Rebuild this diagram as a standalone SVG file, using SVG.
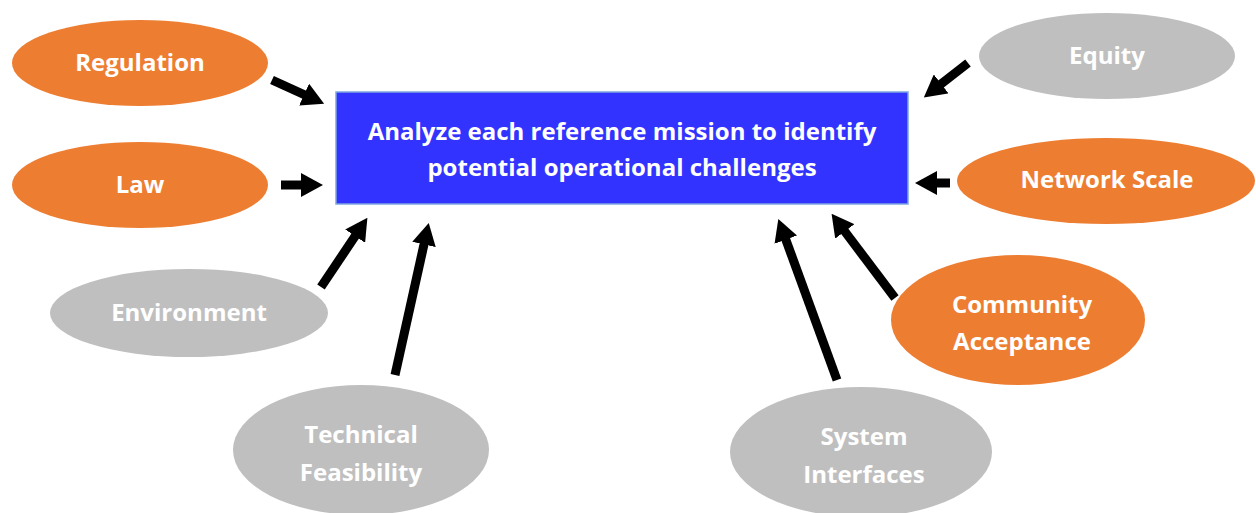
<svg xmlns="http://www.w3.org/2000/svg" width="1256" height="513" viewBox="0 0 1256 513">
<style>
.orange{fill:#ED7D31;}
.gray{fill:#BFBFBF;}
.lbl{font-family:"Open Sans","Liberation Sans",sans-serif;font-weight:bold;font-size:24px;fill:#FFFFFF;text-anchor:middle;}
.main{font-family:"Open Sans","Liberation Sans",sans-serif;font-weight:bold;font-size:24px;fill:#FFFFFF;text-anchor:middle;}
.conn{stroke:#000000;stroke-width:9;fill:none;marker-end:url(#ah);}
</style>
<defs>
<marker id="ah" markerUnits="userSpaceOnUse" markerWidth="22" markerHeight="24" refX="1" refY="12" orient="auto">
<path d="M0,0 L22,12 L0,24 z" fill="#000000"/>
</marker>
</defs>
<rect width="1256" height="513" fill="#FFFFFF"/>
<g id="center">
<rect x="336" y="92" width="572" height="112" fill="#3333FF" stroke="#7EA6E0" stroke-width="1.5"/>
<text class="main" x="622" y="140">Analyze each reference mission to identify</text>
<text class="main" x="622" y="176">potential operational challenges</text>
</g>
<g id="regulation">
<ellipse class="orange" cx="140" cy="63" rx="128" ry="43"/>
<text class="lbl" x="140" y="71">Regulation</text>
</g>
<g id="law">
<ellipse class="orange" cx="140" cy="185" rx="128" ry="43"/>
<text class="lbl" x="140" y="193">Law</text>
</g>
<g id="environment">
<ellipse class="gray" cx="189" cy="313" rx="139" ry="44"/>
<text class="lbl" x="189" y="321">Environment</text>
</g>
<g id="technical">
<ellipse class="gray" cx="361" cy="450" rx="128" ry="65"/>
<text class="lbl" x="361" y="443">Technical</text>
<text class="lbl" x="361" y="481">Feasibility</text>
</g>
<g id="system">
<ellipse class="gray" cx="861" cy="452" rx="131" ry="65"/>
<text class="lbl" x="864" y="445">System</text>
<text class="lbl" x="864" y="483">Interfaces</text>
</g>
<g id="community">
<ellipse class="orange" cx="1018" cy="320" rx="127" ry="65"/>
<text class="lbl" x="1022" y="313">Community</text>
<text class="lbl" x="1022" y="350">Acceptance</text>
</g>
<g id="network">
<ellipse class="orange" cx="1106" cy="181" rx="149" ry="43"/>
<text class="lbl" x="1107" y="188">Network Scale</text>
</g>
<g id="equity">
<ellipse class="gray" cx="1107" cy="56" rx="128" ry="43"/>
<text class="lbl" x="1107" y="64">Equity</text>
</g>
<g id="connectors">
<line class="conn" x1="272" y1="80" x2="305" y2="95"/>
<line class="conn" x1="281" y1="185" x2="302" y2="185"/>
<line class="conn" x1="321" y1="287" x2="355.7" y2="235.3"/>
<line class="conn" x1="395" y1="375" x2="424.2" y2="243.5"/>
<line class="conn" x1="837" y1="380" x2="785.5" y2="238.7"/>
<line class="conn" x1="895" y1="298" x2="844.2" y2="230.6"/>
<line class="conn" x1="950" y1="183" x2="936" y2="183"/>
<line class="conn" x1="968" y1="63" x2="940.4" y2="84.5"/>
</g>
</svg>
